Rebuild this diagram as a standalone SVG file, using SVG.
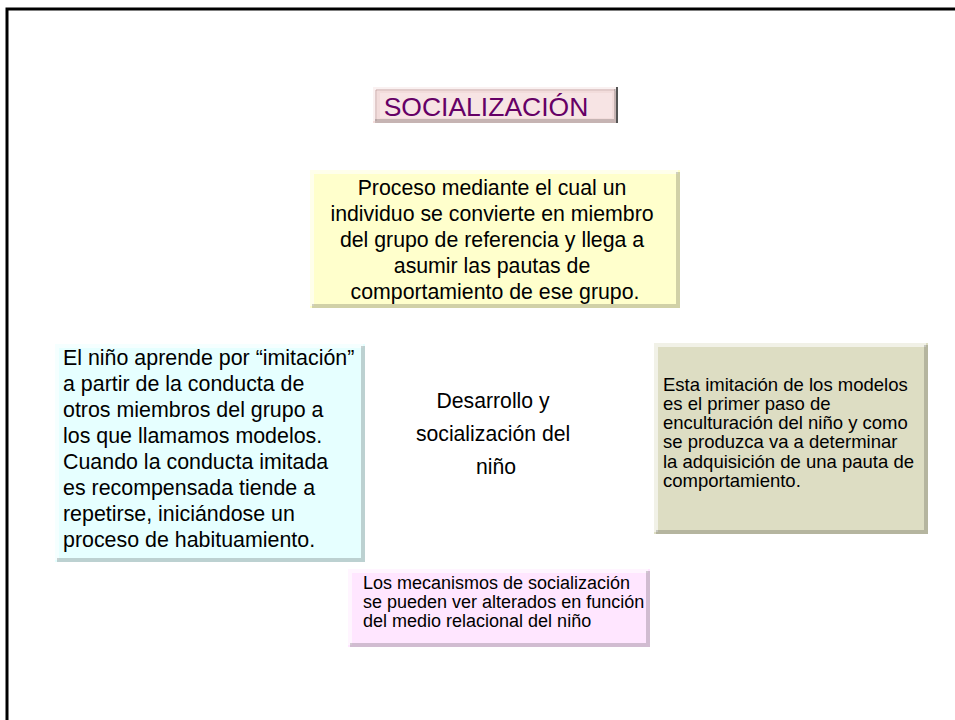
<svg xmlns="http://www.w3.org/2000/svg" width="955" height="720" viewBox="0 0 955 720">
<style>
.t{font-family:"Liberation Sans",Arial,sans-serif;fill:#000}
.hl{stroke:#ffffff;stroke-opacity:0.6;stroke-width:4;fill:none}
.sh{stroke:#000;stroke-opacity:0.18;stroke-width:4;fill:none}
</style>
<rect width="955" height="720" fill="#fff"/>
<rect x="7" y="9" width="960" height="730" fill="none" stroke="#000" stroke-width="3"/>
<g id="title">
<rect x="373" y="87" width="245" height="36" fill="#F2DCDB"/>
<path class="hl" d="M375 121 V89 H616"/>
<path d="M376 121 V90 H615" fill="none" stroke="#c9a5a4" stroke-width="1"/>
<path class="sh" d="M375 121 H616 V89"/>
<line x1="617" y1="87" x2="617" y2="123" stroke="#555" stroke-width="2"/>
<rect x="380" y="93" width="232" height="25" fill="#FAEAEA" opacity="0.6"/>
<text class="t" x="486" y="116" font-size="26.5" text-anchor="middle" style="fill:#660066">SOCIALIZACIÓN</text>
</g>
<g id="definicion">
<rect x="310" y="170" width="370" height="138" fill="#FFFFCC"/>
<path class="hl" d="M312 306 V172 H678"/>
<path class="sh" d="M312 306 H678 V172"/>
<text class="t" font-size="21.3" text-anchor="middle">
<tspan x="495" y="194.5">Proceso mediante el cual un</tspan>
<tspan x="495" y="220.5">individuo se convierte en miembro</tspan>
<tspan x="495" y="246.5">del grupo de referencia y llega a</tspan>
<tspan x="495" y="272.5">asumir las pautas de</tspan>
<tspan x="495" y="298.5">comportamiento de ese grupo.</tspan>
</text>
</g>
<g id="imitacion">
<rect x="55" y="344" width="310" height="218" fill="#E6FFFF"/>
<path class="hl" d="M57 560 V346 H363"/>
<path class="sh" d="M57 560 H363 V346"/>
<text class="t" font-size="21.4">
<tspan x="63" y="364.5">El niño aprende por “imitación”</tspan>
<tspan x="63" y="390.5">a partir de la conducta de</tspan>
<tspan x="63" y="416.5">otros miembros del grupo a</tspan>
<tspan x="63" y="442.5">los que llamamos modelos.</tspan>
<tspan x="63" y="468.5">Cuando la conducta imitada</tspan>
<tspan x="63" y="494.5">es recompensada tiende a</tspan>
<tspan x="63" y="520.5">repetirse, iniciándose un</tspan>
<tspan x="63" y="546.5">proceso de habituamiento.</tspan>
</text>
</g>
<g id="centro">
<text class="t" font-size="21.2" text-anchor="middle">
<tspan x="496" y="408">Desarrollo y</tspan>
<tspan x="496" y="441">socialización del</tspan>
<tspan x="496" y="474">niño</tspan>
</text>
</g>
<g id="enculturacion">
<rect x="654" y="343" width="274" height="191" fill="#DDDDC3"/>
<path class="hl" d="M656 532 V345 H926"/>
<path class="sh" d="M656 532 H926 V345"/>
<text class="t" font-size="18.5">
<tspan x="663" y="390.5">Esta imitación de los modelos</tspan>
<tspan x="663" y="409.8">es el primer paso de</tspan>
<tspan x="663" y="429.1">enculturación del niño y como</tspan>
<tspan x="663" y="448.4">se produzca va a determinar</tspan>
<tspan x="663" y="467.7">la adquisición de una pauta de</tspan>
<tspan x="663" y="487">comportamiento.</tspan>
</text>
</g>
<g id="mecanismos">
<rect x="348" y="569" width="302" height="78" fill="#FFE6FF"/>
<path class="hl" d="M350 645 V571 H648"/>
<path class="sh" d="M350 645 H648 V571"/>
<text class="t" font-size="18">
<tspan x="363" y="588.5">Los mecanismos de socialización</tspan>
<tspan x="363" y="607.5">se pueden ver alterados en función</tspan>
<tspan x="363" y="626.5">del medio relacional del niño</tspan>
</text>
</g>
<g id="connectors"></g>
</svg>
